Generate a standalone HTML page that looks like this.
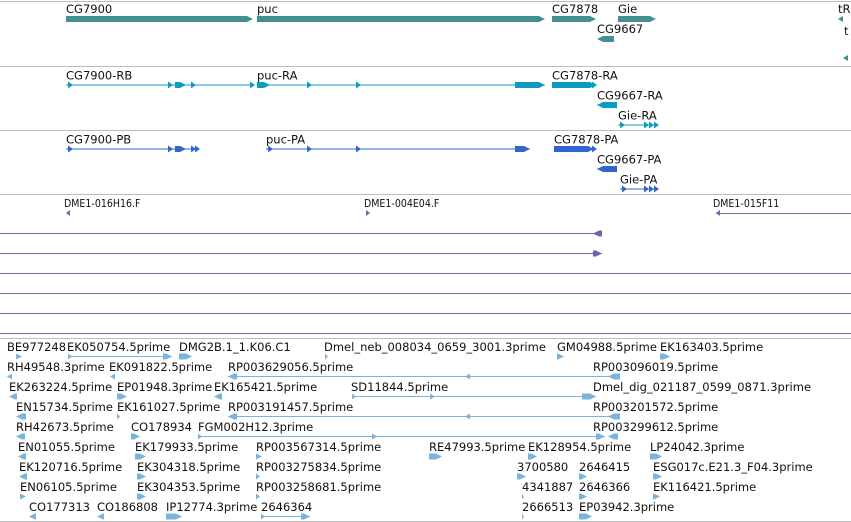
<!DOCTYPE html>
<html><head><meta charset="utf-8">
<style>
html,body{margin:0;padding:0;background:#fff;}
svg{display:block;}
text{font-family:"DejaVu Sans","Liberation Sans",sans-serif;font-size:11.5px;fill:#111;}
.sm{font-size:10.5px;font-family:"DejaVu Sans Condensed","DejaVu Sans","Liberation Sans Narrow",sans-serif;}
</style></head>
<body>
<svg id="g" width="851" height="522" viewBox="0 0 851 522" xmlns="http://www.w3.org/2000/svg"></svg>
<script>
// Gene track: [label, labelX, labelY, start, end, y, dir]
const geneLabels=["CG7900","puc","CG7878","Gie","CG9667","tR"];
const geneStarts=[66,257,552,618,597,838];
const geneEnds=[253,545,596,656,614,843];
const geneRows=[0,0,0,0,1,0];
const geneDirs=[1,1,1,1,-1,-1];
// Transcript tracks: label, labelX, row, lineStart, lineEnd, blocks, arrows, dir
const rnaLabels=["CG7900-RB","puc-RA","CG7878-RA","CG9667-RA","Gie-RA"];
const rnaLabelX=[66,257,552,597,618];
const rnaRows=[0,0,0,1,2];
const rnaLines=[[66,253],[257,545],[552,596],[597,617],[618,656]];
const rnaBlocks=[[[175,186]],[[257,270],[515,545]],[[552,596]],[[597,617]],[]];
const rnaArrows=[[68,168,191,250],[307,356],[568,580,592],[605,612],[620,644,649,654]];
const rnaDirs=[1,1,1,-1,1];
const protLabels=["CG7900-PB","puc-PA","CG7878-PA","CG9667-PA","Gie-PA"];
const protLabelX=[66,266,554,597,620];
const protLines=[[66,195],[266,530],[554,594],[597,617],[620,655]];
const protBlocks=[[[175,186]],[[515,530]],[[554,594]],[[597,617]],[]];
const protArrows=[[68,168,191,195],[268,307,356],[568,580,592],[605,612],[622,644,649,654]];
// clone track
const cloneLabels=["DME1-016H16.F","DME1-004E04.F","DME1-015F11"];
const cloneLabelX=[64,364,713];
const cloneMarks=[[66,-1],[366,1],[716,-1]];
const longRows=[233,253,273,293,313];
const longEnds=[602,602,851,851,851];
const longMarks=[-1,1,0,0,0];
// EST track: label, labelX, row, arrowStart, arrowEnd, dir, midArrows
const estLabels=["BE977248","EK050754.5prime","DMG2B.1_1.K06.C1","Dmel_neb_008034_0659_3001.3prime","GM04988.5prime","EK163403.5prime",
"RH49548.3prime","EK091822.5prime","RP003629056.5prime","RP003096019.5prime",
"EK263224.5prime","EP01948.3prime","EK165421.5prime","SD11844.5prime","Dmel_dig_021187_0599_0871.3prime",
"EN15734.5prime","EK161027.5prime","RP003191457.5prime","RP003201572.5prime",
"RH42673.5prime","CO178934","FGM002H12.3prime","RP003299612.5prime",
"EN01055.5prime","EK179933.5prime","RP003567314.5prime","RE47993.5prime","EK128954.5prime","LP24042.3prime",
"EK120716.5prime","EK304318.5prime","RP003275834.5prime","3700580","2646415","ESG017c.E21.3_F04.3prime",
"EN06105.5prime","EK304353.5prime","RP003258681.5prime","4341887","2646366","EK116421.5prime",
"CO177313","CO186808","IP12774.3prime","2646364","2666513","EP03942.3prime"];
const estLabelX=[7,67,179,324,557,660, 7,109,228,593, 9,117,214,351,593, 16,117,228,593, 16,131,198,593, 18,135,256,429,528,650, 19,137,256,517,579,653, 20,137,256,522,579,653, 29,97,166,261,522,579];
const estRows=[0,0,0,0,0,0, 1,1,1,1, 2,2,2,2,2, 3,3,3,3, 4,4,4,4, 5,5,5,5,5,5, 6,6,6,6,6,6, 7,7,7,7,7,7, 8,8,8,8,8,8];
const estStart=[16,68,179,325,557,660, 7,110,228,608, 9,117,214,352,582, 16,117,228,608, 16,131,198,608, 18,135,256,429,528,650, 19,137,256,517,579,653, 20,137,256,522,579,653, 29,97,166,261,522,579];
const estEnd=[22,172,192,328,564,670, 12,115,615,620, 17,127,222,596,596, 26,120,615,620, 25,140,605,618, 26,146,262,442,537,662, 27,146,260,526,587,662, 26,146,260,524,587,660, 36,104,182,310,524,592];
const estDirs=[1,1,1,1,1,1, -1,-1,-1,-1, -1,1,-1,1,1, -1,1,-1,-1, -1,1,1,-1, -1,1,1,1,1,1, -1,1,1,1,1,1, 1,1,1,1,1,1, -1,-1,1,1,1,1];
const estMid=[[],[],[],[],[],[], [],[],[465],[], [],[],[],[430],[], [],[],[465],[], [],[],[372],[], [],[],[],[],[],[], [],[],[],[],[],[], [],[],[],[],[],[], [],[],[],[],[],[]];

const svg=document.getElementById('g');
const NS="http://www.w3.org/2000/svg";
function mk(tag,attrs,name){const e=document.createElementNS(NS,tag);for(const k in attrs)e.setAttribute(k,attrs[k]);


svg.appendChild(e);return e;}
function txt(s,x,y,name,cls){const t=mk('text',{x:x,y:y},name);if(cls)t.setAttribute('class',cls);t.textContent=s;return t;}
function hline(x1,x2,y,c,name,w){return mk('line',{x1:x1,x2:x2,y1:y,y2:y,stroke:c,'stroke-width':w||1},name);}
function tri(x,y,dir,c,h,w,name){w=w||5;const p=dir>0?`${x},${y-h} ${x+w},${y} ${x},${y+h}`:`${x+w},${y-h} ${x},${y} ${x+w},${y+h}`;return mk('polygon',{points:p,fill:c},name);}
function block(a,b,y,h,dir,c,name){const tip=Math.min(6,(b-a));
if(dir>0)return mk('polygon',{points:`${a},${y-h} ${b-tip},${y-h} ${b},${y} ${b-tip},${y+h} ${a},${y+h}`,fill:c},name);
return mk('polygon',{points:`${b},${y-h} ${a+tip},${y-h} ${a},${y} ${a+tip},${y+h} ${b},${y+h}`,fill:c},name);}

// separators
[1,66,130,194,338,521].forEach(y=>hline(0,851,y+0.5,'#bdbdbd','track-separator'));
hline(0,851,333.5,'#7a5fad','clone-track-bottom');

// genes
const GC='#42918f';
for(let i=0;i<geneLabels.length;i++){const y=19+geneRows[i]*20;
txt(geneLabels[i],geneStarts[i],y-6,'gene-label-'+geneLabels[i].toLowerCase());
block(geneStarts[i],geneEnds[i],y,3,geneDirs[i],GC,'gene-'+geneLabels[i].toLowerCase());}
tri(843,58,-1,GC,3,5,'gene-partial');txt('t',844,35,'gene-label-partial');

// transcripts
function tracks(labels,lx,lines,blocks,arrows,base,c,prefix){
for(let i=0;i<labels.length;i++){const y=base+rnaRows[i]*20;const d=rnaDirs[i];
txt(labels[i],lx[i],y-5,prefix+'-label');
hline(lines[i][0],lines[i][1],y+0.5,c,prefix+'-intron-line');
blocks[i].forEach(b=>block(b[0],b[1],y+0.5,3,d,c,prefix+'-exon'));
arrows[i].forEach(a=>tri(a,y+0.5,d,c,3.5,5,prefix+'-exon-arrow'));}}
tracks(rnaLabels,rnaLabelX,rnaLines,rnaBlocks,rnaArrows,84.5,'#0a9dc0','transcript');
tracks(protLabels,protLabelX,protLines,protBlocks,protArrows,148.5,'#3366cc','protein');

// clones
const PC='#7a5fad';
for(let i=0;i<cloneLabels.length;i++){txt(cloneLabels[i],cloneLabelX[i],207,'clone-label','sm');
tri(cloneMarks[i][0],213,cloneMarks[i][1],PC,3,4,'clone-marker');}
hline(716,851,213.5,PC,'clone-line');
for(let i=0;i<longRows.length;i++){hline(0,longEnds[i],longRows[i]+0.5,PC,'clone-span');
if(longMarks[i]) block(longEnds[i]-9,longEnds[i],longRows[i]+0.5,3,longMarks[i],PC,'clone-end');}

// ESTs
const EC='#7ab3dc';
for(let i=0;i<estLabels.length;i++){const ly=351+estRows[i]*20;const ay=ly+5.5;const d=estDirs[i];
txt(estLabels[i],estLabelX[i],ly,'est-label');
const a=estStart[i],b=estEnd[i];
if(b-a>20){hline(a,b,ay,EC,'est-intron');
if(d>0)block(b-9,b,ay,3,1,EC,'est-exon');else block(a,a+9,ay,3,-1,EC,'est-exon');
if(d>0)tri(a,ay,1,EC,3,4,'est-arrow');else tri(b-4,ay,-1,EC,3,4,'est-arrow');}
else block(a,b,ay,3,d,EC,'est-exon');
estMid[i].forEach(m=>tri(m,ay,d,EC,3,5,'est-arrow'));}
</script>
</body></html>
